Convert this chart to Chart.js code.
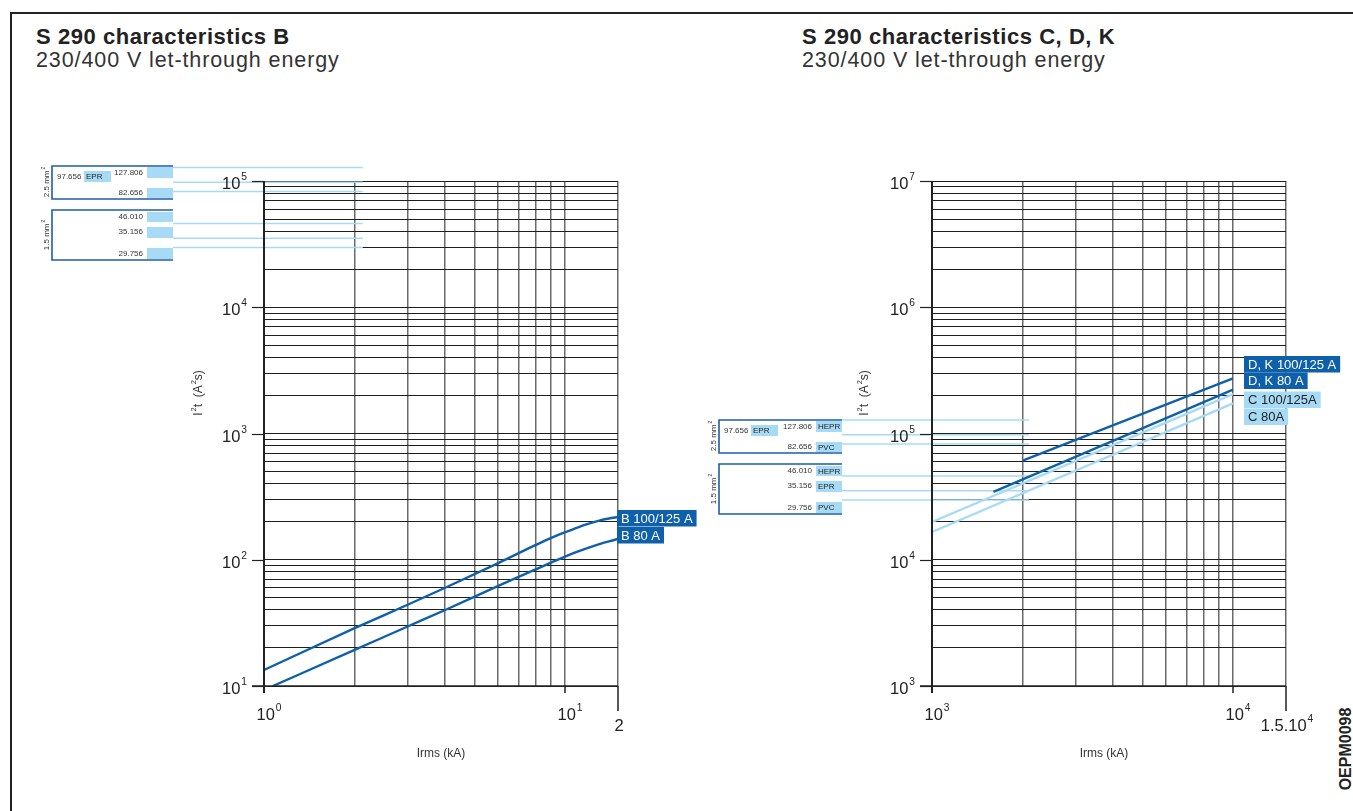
<!DOCTYPE html>
<html>
<head>
<meta charset="utf-8">
<title>S 290 let-through energy</title>
<script src="https://cdn.jsdelivr.net/npm/chart.js@4.4.1/dist/chart.umd.min.js"></script>
<style>
  html, body { margin: 0; padding: 0; background: #fff; }
  body { position: relative; width: 1353px; height: 811px; overflow: hidden; font-family: "Liberation Sans", Arial, Helvetica, sans-serif; color: #222; }
  #frame { position: absolute; left: 10px; top: 12px; width: 1400px; height: 900px; border-left: 2px solid #222; border-top: 2px solid #222; }
  .title { position: absolute; font-size: 22px; line-height: 22px; font-weight: bold; letter-spacing: 0.55px; white-space: nowrap; }
  .sub { position: absolute; font-size: 21.5px; line-height: 21.5px; letter-spacing: 0.9px; white-space: nowrap; color: #333; }
  #code { position: absolute; left: 1346px; top: 749px; transform: translate(-50%, -50%) rotate(-90deg); font-size: 16px; line-height: 16px; font-weight: bold; white-space: nowrap; }
  canvas { position: absolute; left: 0; top: 0; }
</style>
</head>
<body>
<div id="frame"></div>
<div class="title" style="left:36px;top:26px">S 290 characteristics B</div>
<div class="sub" style="left:36px;top:50px">230/400 V let-through energy</div>
<div class="title" style="left:802px;top:26px">S 290 characteristics C, D, K</div>
<div class="sub" style="left:802px;top:50px">230/400 V let-through energy</div>
<div id="code">OEPM0098</div>
<canvas id="chartB" width="1353" height="811"></canvas>
<canvas id="chartCDK" width="1353" height="811"></canvas>
<script>
// characteristic B (Irms kA, I2t A2s)
var b125Current = [1, 2, 3, 4, 6, 8, 9, 10, 11, 12, 13, 14, 15];
var b125Energy = [13.4, 28.7, 44, 60, 94, 131, 149, 165, 180, 193, 204, 212, 218];
var b80Current = [1.07, 2, 3, 4, 6, 8, 9, 10, 11, 12, 13, 14, 15];
var b80Energy = [10, 19.3, 29.6, 40, 62, 84, 95, 106, 116, 125, 133, 140, 146];

// characteristics C, D, K
var dk125Current = [2000, 10000];
var dk125Energy = [61000, 273000];
var dk80Current = [1600, 10000];
var dk80Energy = [34500, 223000];
var c125Current = [1000, 10000];
var c125Energy = [19900, 205000];
var c80Current = [1000, 10000];
var c80Energy = [16600, 173000];

var seriesB = ['B 100/125 A', 'B 80 A'];
var seriesCDK = ['D, K 100/125 A', 'D, K 80 A', 'C 100/125A', 'C 80A'];

// cable limits
var cableSection = ['2.5 mm', '1.5 mm'];
var cableEnergy = [127806, 97656, 82656, 46010, 35156, 29756];
var cableText = ['127.806', '97.656', '82.656', '46.010', '35.156', '29.756'];
var cableInsulation = ['HEPR', 'EPR', 'PVC', 'HEPR', 'EPR', 'PVC'];
var cableLineEndB = 2.13;
var cableLineEndCDK = 2100;

// tick labels
var bXLabelAt = [1, 10, 15];
var bXLabels = [['10', '0'], ['10', '1'], ['2', '']];
var bYLabelAt = [10, 100, 1000, 10000, 100000];
var bYLabels = ['1', '2', '3', '4', '5'];
var cdkXLabelAt = [1000, 10000, 15000];
var cdkXLabels = [['10', '3'], ['10', '4'], ['1.5.10', '4']];
var cdkYLabelAt = [1000, 10000, 100000, 1000000, 10000000];
var cdkYLabels = ['3', '4', '5', '6', '7'];

var FONT = '"Liberation Sans", Arial, Helvetica, sans-serif';
var DARK = '#0f60aa';
var LIGHT = '#a7dbf5';
var BOXBLUE = '#1f5ea6';

function pts(xs, ys) {
  return xs.map(function (x, i) { return { x: x, y: ys[i] }; });
}

function logGrid(min, max) {
  var out = [];
  for (var d = min; d < max; d *= 10) {
    for (var k = 1; k < 10; k++) out.push(d * k);
  }
  out.push(max);
  return out;
}

function line(ctx, x0, y0, x1, y1) {
  ctx.beginPath();
  ctx.moveTo(x0, y0);
  ctx.lineTo(x1, y1);
  ctx.stroke();
}

// text with superscripts: parts = [[text, isSup], ...]
function drawSup(ctx, parts, x, y, size, align) {
  var widths = [], w = 0;
  parts.forEach(function (p) {
    ctx.font = (p[1] ? size * 0.62 : size) + 'px ' + FONT;
    var m = ctx.measureText(p[0]).width + (p[1] ? 1 : 0);
    widths.push(m);
    w += m;
  });
  var cx = align === 'right' ? x - w : align === 'center' ? x - w / 2 : x;
  ctx.textAlign = 'left';
  ctx.textBaseline = 'alphabetic';
  parts.forEach(function (p, i) {
    ctx.font = (p[1] ? size * 0.62 : size) + 'px ' + FONT;
    ctx.fillText(p[0], cx + (p[1] ? 1 : 0), p[1] ? y - size * 0.52 : y);
    cx += widths[i];
  });
}

// rows inside the two cable boxes, relative to box top
var boxRows = [
  { h: 33, rows: [{ cy: 7, t0: 1, t1: 12 }, { cy: 11, t0: 5, t1: 16, inline: true }, { cy: 27, t0: 22, t1: 32 }] },
  { h: 50, rows: [{ cy: 7, t0: 2, t1: 12 }, { cy: 22, t0: 17, t1: 28 }, { cy: 44, t0: 38, t1: 49 }] }
];

function decor(o) {
  return {
    id: 'decor',
    beforeDatasetsDraw: function (chart) {
      var ctx = chart.ctx, xs = chart.scales.x, ys = chart.scales.y;
      var xEnd = xs.getPixelForValue(o.lineEnd);
      ctx.save();
      ctx.strokeStyle = LIGHT;
      ctx.lineWidth = 1.5;
      cableEnergy.forEach(function (e, i) {
        var b = o.boxes[i < 3 ? 0 : 1];
        var py = ys.getPixelForValue(e);
        line(ctx, b.x1, py, xEnd, py);
      });
      ctx.restore();
    },
    afterDatasetsDraw: function (chart) {
      var ctx = chart.ctx, xs = chart.scales.x, ys = chart.scales.y, a = chart.chartArea;
      ctx.save();
      ctx.strokeStyle = '#222';
      ctx.fillStyle = '#222';

      // axes
      ctx.lineWidth = 2;
      line(ctx, a.left, a.top, a.left, a.bottom + 7);
      ctx.lineWidth = 1.5;
      line(ctx, a.left - 12, a.bottom, a.right, a.bottom);

      // y decade ticks + labels
      ctx.lineWidth = 1.2;
      o.yLabelAt.forEach(function (v, i) {
        var py = Math.round(ys.getPixelForValue(v)) + 0.5;
        line(ctx, a.left - 12, py, a.left, py);
        drawSup(ctx, [['10'], [o.yLabels[i], true]], a.left - 17, py + 7, 16.5, 'right');
      });

      // x ticks + labels
      o.xLabelAt.forEach(function (v, i) {
        var px = xs.getPixelForValue(v);
        var last = i === o.xLabelAt.length - 1;
        ctx.lineWidth = 1.5;
        line(ctx, px, a.bottom, px, a.bottom + (last ? 25 : 7));
        var lab = o.xLabels[i];
        var parts = lab[1] ? [[lab[0]], [lab[1], true]] : [[lab[0]]];
        if (last) drawSup(ctx, parts, px + 1, a.bottom + 45, 16.5, 'center');
        else drawSup(ctx, parts, px - 7.5, a.bottom + 34, 16.5, 'left');
      });

      // axis titles
      ctx.fillStyle = '#333';
      ctx.font = '12px ' + FONT;
      ctx.textAlign = 'center';
      ctx.textBaseline = 'alphabetic';
      ctx.fillText('Irms (kA)', (a.left + a.right) / 2 - o.xTitleShift, a.bottom + 71);
      ctx.save();
      ctx.translate(o.yTitleX, a.top + 212);
      ctx.rotate(-Math.PI / 2);
      drawSup(ctx, [['I'], ['2', true], ['t  (A'], ['2', true], ['s)']], 0, 4, 12, 'center');
      ctx.restore();

      // cable boxes
      o.boxes.forEach(function (b, g) {
        var lay = boxRows[g];
        lay.rows.forEach(function (r, k) {
          var i = g * 3 + k;
          var tx0 = r.inline ? b.x0 + 32 : b.x1 - 26;
          var tx1 = r.inline ? b.x0 + 59 : b.x1;
          ctx.fillStyle = LIGHT;
          ctx.fillRect(tx0, b.y0 + r.t0, tx1 - tx0, r.t1 - r.t0);
          ctx.fillStyle = '#333';
          ctx.font = '8px ' + FONT;
          ctx.textBaseline = 'middle';
          if (r.inline) {
            ctx.textAlign = 'left';
            ctx.fillText(cableText[i], b.x0 + 5, b.y0 + r.cy);
          } else {
            ctx.textAlign = 'right';
            ctx.fillText(cableText[i], b.x1 - 30, b.y0 + r.cy);
          }
          if (o.tagText || r.inline) {
            ctx.textAlign = 'left';
            ctx.fillStyle = '#222';
            ctx.fillText(cableInsulation[i], tx0 + 2, b.y0 + (r.t0 + r.t1) / 2 + 0.5);
          }
        });
        ctx.strokeStyle = BOXBLUE;
        ctx.lineWidth = 1.6;
        ctx.beginPath();
        ctx.moveTo(b.x1, b.y0);
        ctx.lineTo(b.x0, b.y0);
        ctx.lineTo(b.x0, b.y0 + lay.h);
        ctx.lineTo(b.x1, b.y0 + lay.h);
        ctx.stroke();
        ctx.save();
        ctx.translate(b.x0 - 6, b.y0 + (g === 0 ? 16 : 25));
        ctx.rotate(-Math.PI / 2);
        ctx.fillStyle = '#333';
        drawSup(ctx, [[cableSection[g]], ['2', true]], 0, 3, 8, 'center');
        ctx.restore();
      });

      // series tags at the end of each curve
      chart.data.datasets.forEach(function (ds, i) {
        var lastPt = ds.data[ds.data.length - 1];
        var px = xs.getPixelForValue(lastPt.x) + o.tagGap;
        var top = o.tagTops[i];
        ctx.font = '13px ' + FONT;
        var w = ctx.measureText(ds.label).width + 8;
        ctx.fillStyle = ds.tagFill;
        ctx.fillRect(px, top, w, 16.5);
        ctx.fillStyle = ds.tagColor;
        ctx.textAlign = 'left';
        ctx.textBaseline = 'middle';
        ctx.fillText(ds.label, px + 4, top + 9);
      });
      ctx.restore();
    }
  };
}

function buildChart(id, o) {
  return new Chart(document.getElementById(id), {
    type: 'scatter',
    data: { datasets: o.datasets },
    options: {
      responsive: false,
      animation: false,
      events: [],
      layout: { padding: o.padding },
      plugins: { legend: { display: false }, tooltip: { enabled: false } },
      elements: { point: { radius: 0 } },
      scales: {
        x: {
          type: 'logarithmic', min: o.xMin, max: o.xMax,
          afterBuildTicks: function (s) { s.ticks = o.xGrid.map(function (v) { return { value: v }; }); },
          afterFit: function (s) { s.height = 0; },
          ticks: { display: false },
          border: { display: false },
          grid: { drawTicks: false, color: '#6a6a6a', lineWidth: 1.5 }
        },
        y: {
          type: 'logarithmic', min: o.yMin, max: o.yMax,
          afterBuildTicks: function (s) { s.ticks = o.yGrid.map(function (v) { return { value: v }; }); },
          afterFit: function (s) { s.width = 0; },
          ticks: { display: false },
          border: { display: false },
          grid: { drawTicks: false, color: '#1e1e1e', lineWidth: 1 }
        }
      }
    },
    plugins: [decor(o)]
  });
}

function series(label, xs, ys, color, tagFill, tagColor, smooth) {
  return {
    label: label, data: pts(xs, ys), showLine: true, borderColor: color, borderWidth: 2.4,
    pointRadius: 0, cubicInterpolationMode: smooth ? 'monotone' : 'default',
    tagFill: tagFill, tagColor: tagColor
  };
}

buildChart('chartB', {
  padding: { left: 264, right: 735, top: 181, bottom: 125 },
  xMin: 1, xMax: 15, xGrid: logGrid(1, 10).concat([15]),
  yMin: 10, yMax: 100000, yGrid: logGrid(10, 100000),
  xLabelAt: bXLabelAt, xLabels: bXLabels, yLabelAt: bYLabelAt, yLabels: bYLabels,
  xTitleShift: 0, yTitleX: 198,
  lineEnd: cableLineEndB,
  boxes: [{ x0: 52, x1: 173, y0: 166 }, { x0: 52, x1: 173, y0: 210 }],
  tagText: false,
  tagGap: -1, tagTops: [510, 527],
  datasets: [
    series(seriesB[0], b125Current, b125Energy, DARK, DARK, '#fff', true),
    series(seriesB[1], b80Current, b80Energy, DARK, DARK, '#fff', true)
  ]
});

buildChart('chartCDK', {
  padding: { left: 932, right: 67, top: 181, bottom: 125 },
  xMin: 1000, xMax: 15000, xGrid: logGrid(1000, 10000).concat([15000]),
  yMin: 1000, yMax: 10000000, yGrid: logGrid(1000, 10000000),
  xLabelAt: cdkXLabelAt, xLabels: cdkXLabels, yLabelAt: cdkYLabelAt, yLabels: cdkYLabels,
  xTitleShift: 5, yTitleX: 864,
  lineEnd: cableLineEndCDK,
  boxes: [{ x0: 719, x1: 842, y0: 420 }, { x0: 719, x1: 842, y0: 464 }],
  tagText: true,
  tagGap: 11, tagTops: [356, 372.5, 391.5, 408.5],
  datasets: [
    series(seriesCDK[0], dk125Current, dk125Energy, DARK, DARK, '#fff', false),
    series(seriesCDK[1], dk80Current, dk80Energy, DARK, DARK, '#fff', false),
    series(seriesCDK[2], c125Current, c125Energy, LIGHT, LIGHT, '#222', false),
    series(seriesCDK[3], c80Current, c80Energy, LIGHT, LIGHT, '#222', false)
  ]
});
</script>
</body>
</html>
